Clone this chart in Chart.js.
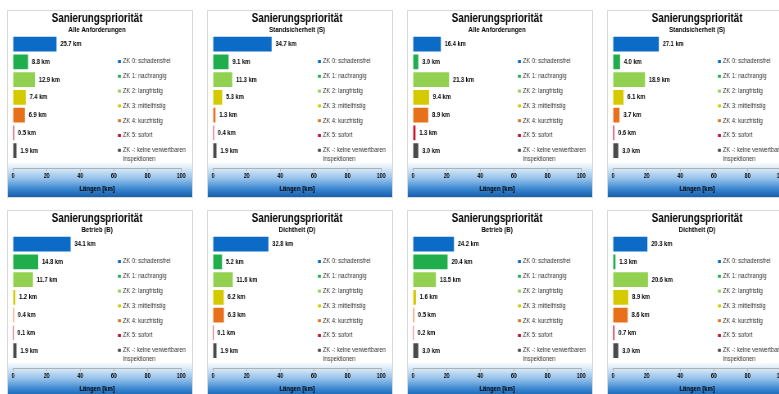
<!DOCTYPE html>
<html>
<head>
<meta charset="utf-8">
<script src="https://cdn.jsdelivr.net/npm/chart.js@4.4.1/dist/chart.umd.min.js"></script>
<style>
body { margin: 0; width: 779px; height: 394px; overflow: hidden; background: #fff; position: relative; }
.panel {
    position: absolute; width: 186px; height: 188px; overflow: hidden;
    box-shadow: inset 0 0 0 1px #d9d9d9;
    background: linear-gradient(to bottom, #fff 0, #fff 152px, #dcebf8 158px, #93c0ea 169px, #3a86d0 179px, #155fae 187px);
}
/* schmale Schrift: Canvas breiter zeichnen und horizontal stauchen */
.panel canvas { position: absolute; left: 0; top: 0; transform: scaleX(0.82); transform-origin: 0 0; }
</style>
</head>
<body>
<div class="panel" style="left:7px;top:10px"><canvas id="c1" width="227" height="188"></canvas></div>
<div class="panel" style="left:207px;top:10px"><canvas id="c2" width="227" height="188"></canvas></div>
<div class="panel" style="left:407px;top:10px"><canvas id="c3" width="227" height="188"></canvas></div>
<div class="panel" style="left:607px;top:10px"><canvas id="c4" width="227" height="188"></canvas></div>
<div class="panel" style="left:7px;top:210px"><canvas id="c5" width="227" height="188"></canvas></div>
<div class="panel" style="left:207px;top:210px"><canvas id="c6" width="227" height="188"></canvas></div>
<div class="panel" style="left:407px;top:210px"><canvas id="c7" width="227" height="188"></canvas></div>
<div class="panel" style="left:607px;top:210px"><canvas id="c8" width="227" height="188"></canvas></div>
<script>
// Zustandsklassen
const categories = [
    'ZK 0: schadensfrei',
    'ZK 1: nachrangig',
    'ZK 2: langfristig',
    'ZK 3: mittelfristig',
    'ZK 4: kurzfristig',
    'ZK 5: sofort',
    ['ZK -: keine verwertbaren', 'Inspektionen']
];
const barColors = ['#0c6bc6', '#1fae4b', '#92d050', '#d5c900', '#e8701a', '#c8102e', '#4a4a4a'];

const subtitles = [
    'Alle Anforderungen', 'Standsicherheit (S)', 'Alle Anforderungen', 'Standsicherheit (S)',
    'Betrieb (B)', 'Dichtheit (D)', 'Betrieb (B)', 'Dichtheit (D)'
];

// Längen in km je Zustandsklasse
const laengen1 = [25.7, 8.8, 12.9, 7.4, 6.9, 0.5, 1.9];
const laengen2 = [34.7, 9.1, 11.3, 5.3, 1.3, 0.4, 1.9];
const laengen3 = [16.4, 3.0, 21.3, 9.4, 8.9, 1.3, 3.0];
const laengen4 = [27.1, 4.0, 18.9, 6.1, 3.7, 0.6, 3.0];
const laengen5 = [34.1, 14.8, 11.7, 1.2, 0.4, 0.1, 1.9];
const laengen6 = [32.8, 5.2, 11.6, 6.2, 6.3, 0.1, 1.9];
const laengen7 = [24.2, 20.4, 13.5, 1.6, 0.5, 0.2, 3.0];
const laengen8 = [20.3, 1.3, 20.6, 8.9, 8.6, 0.7, 3.0];

const xTicks = [0, 20, 40, 60, 80, 100];

const FONT = "'Liberation Sans', Arial, sans-serif";
Chart.defaults.font.family = FONT;
Chart.defaults.color = '#000';

// Werte rechts neben den Balken
const barLabels = {
    id: 'barLabels',
    afterDatasetsDraw(chart) {
        const ctx = chart.ctx;
        const ds = chart.data.datasets[0];
        ctx.save();
        ctx.font = 'bold 7px ' + FONT;
        ctx.fillStyle = '#000';
        ctx.textBaseline = 'middle';
        chart.getDatasetMeta(0).data.forEach(function(bar, i) {
            ctx.fillText(ds.data[i].x.toFixed(1) + ' km', bar.x + 5, bar.y);
        });
        ctx.restore();
    }
};

// Legende im Diagrammbereich rechts
const sideLegend = {
    id: 'sideLegend',
    afterDraw(chart) {
        const ctx = chart.ctx;
        const ds = chart.data.datasets[0];
        const x = chart.chartArea.left + 128;
        let y = 51.5;
        ctx.save();
        ctx.font = '7px ' + FONT;
        ctx.textBaseline = 'middle';
        chart.data.labels.forEach(function(label, i) {
            ctx.fillStyle = ds.backgroundColor[i];
            ctx.fillRect(x, y - 1.5, 3.6, 3);
            ctx.fillStyle = '#333';
            const lines = Array.isArray(label) ? label : [label];
            lines.forEach(function(line, j) {
                ctx.fillText(line, x + 6, y + j * 9);
            });
            y += 14.8;
        });
        ctx.restore();
    }
};

function makeChart(id, subtitle, values) {
    new Chart(document.getElementById(id), {
        type: 'bar',
        data: {
            labels: categories,
            datasets: [{
                data: values.map(function(v, i) { return {x: v, y: i}; }),
                backgroundColor: barColors,
                barThickness: 14,
                borderWidth: 0
            }]
        },
        options: {
            indexAxis: 'y',
            responsive: false,
            animation: false,
            layout: { padding: { left: 7.3, right: 14.6, top: 0, bottom: 0 } },
            scales: {
                x: {
                    type: 'linear',
                    min: 0,
                    max: 100,
                    afterBuildTicks: function(axis) {
                        axis.ticks = xTicks.map(function(v) { return {value: v}; });
                    },
                    ticks: { padding: 1, font: { size: 6.5, weight: 'bold' }, maxRotation: 0 },
                    grid: { drawOnChartArea: false, tickLength: 3, color: '#b0b0b0' },
                    border: { color: '#b0b0b0' },
                    title: {
                        display: true,
                        text: 'Längen [km]',
                        font: { size: 7.3, weight: 'bold' },
                        padding: { top: 3, bottom: 5 }
                    }
                },
                y: {
                    type: 'linear',
                    reverse: true,
                    offset: false,
                    display: false,
                    // Bereich fest: halbe Klasse oben, Luft unten bis zur Achse
                    afterBuildTicks: function(axis) {
                        axis.min = -0.5;
                        axis.max = 7;
                        axis.ticks = [];
                    }
                }
            },
            plugins: {
                legend: { display: false },
                tooltip: { enabled: false },
                title: {
                    display: true,
                    text: 'Sanierungspriorität',
                    font: { size: 12, weight: 'bold', lineHeight: 1.1 },
                    padding: { top: 2, bottom: 0 }
                },
                subtitle: {
                    display: true,
                    text: subtitle,
                    font: { size: 7.5, weight: 'bold' },
                    padding: { top: 0, bottom: 1 }
                }
            }
        },
        plugins: [barLabels, sideLegend]
    });
}

makeChart('c1', subtitles[0], laengen1);
makeChart('c2', subtitles[1], laengen2);
makeChart('c3', subtitles[2], laengen3);
makeChart('c4', subtitles[3], laengen4);
makeChart('c5', subtitles[4], laengen5);
makeChart('c6', subtitles[5], laengen6);
makeChart('c7', subtitles[6], laengen7);
makeChart('c8', subtitles[7], laengen8);
</script>
</body>
</html>
